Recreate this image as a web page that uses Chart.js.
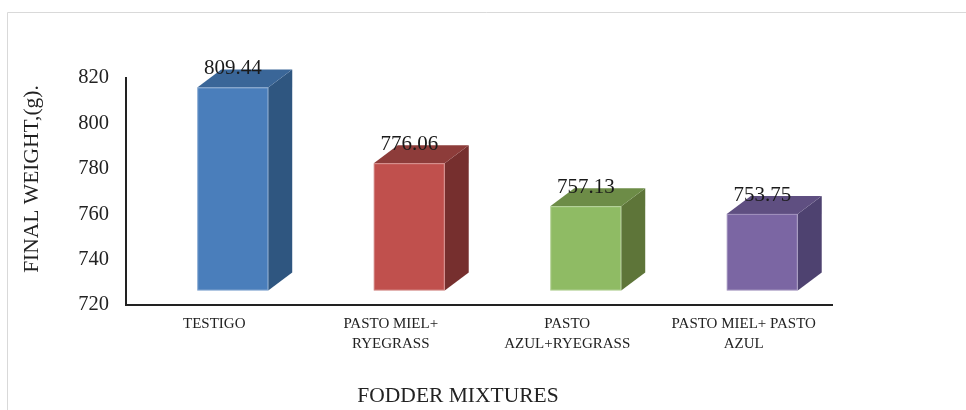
<!DOCTYPE html>
<html>
<head>
<meta charset="utf-8">
<title>Final weight by fodder mixture</title>
<script src="https://cdn.jsdelivr.net/npm/chart.js@4.4.1/dist/chart.umd.min.js"></script>
<style>
  html, body { margin: 0; padding: 0; background: #fff; }
  #chart { display: block; }
</style>
</head>
<body>
<canvas id="chart" width="966" height="410"></canvas>
<script>
// categories (multi-line labels) and final weights in grams
const mixtures = [
  'TESTIGO',
  ['PASTO MIEL+', 'RYEGRASS'],
  ['PASTO', 'AZUL+RYEGRASS'],
  ['PASTO MIEL+ PASTO', 'AZUL']
];
const finalWeights = [809.44, 776.06, 757.13, 753.75];

// value axis range
const yMin = 720;
const yMax = 820;
const yStep = 20;

const xTitle = 'FODDER MIXTURES';
const yTitle = 'FINAL WEIGHT,(g).';

// face colours for the 3d columns: front, top, side
const frontColors = ['#4a7ebb', '#c0504d', '#8fbb64', '#7b66a3'];
const topColors = ['#3a6698', '#8d3c3a', '#6d8c47', '#5f4f81'];
const sideColors = ['#2f5680', '#762f2e', '#5e7539', '#4e4270'];

const FONT = "'Liberation Serif', 'Times New Roman', serif";
const INK = '#222';

// draws columns as extruded boxes on top of the (invisible) bar elements
const columns3d = {
  id: 'columns3d',
  beforeDraw(chart) {
    const ctx = chart.ctx;
    ctx.save();
    ctx.fillStyle = '#fff';
    ctx.fillRect(0, 0, chart.width, chart.height);
    // outer frame
    ctx.strokeStyle = '#d9d9d9';
    ctx.lineWidth = 1;
    ctx.beginPath();
    ctx.moveTo(7.5, chart.height);
    ctx.lineTo(7.5, 12.5);
    ctx.lineTo(chart.width, 12.5);
    ctx.stroke();
    ctx.restore();
  },
  afterDatasetsDraw(chart) {
    const ctx = chart.ctx;
    const yScale = chart.scales.y;
    const meta = chart.getDatasetMeta(0);
    const ox = 18.5, oy = -14.5;   // front face shift
    const dx = 24, dy = 18;        // depth
    const floor = yScale.getPixelForValue(yScale.min);
    ctx.save();
    meta.data.forEach((bar, i) => {
      const p = bar.getProps(['x', 'y', 'width'], true);
      const l = p.x - p.width / 2 + ox;
      const r = p.x + p.width / 2 + ox;
      const t = p.y + oy;
      const b = floor + oy;

      // side
      ctx.fillStyle = sideColors[i];
      ctx.beginPath();
      ctx.moveTo(r, t);
      ctx.lineTo(r + dx, t - dy);
      ctx.lineTo(r + dx, b - dy);
      ctx.lineTo(r, b);
      ctx.closePath();
      ctx.fill();

      // top
      ctx.fillStyle = topColors[i];
      ctx.beginPath();
      ctx.moveTo(l, t);
      ctx.lineTo(l + dx, t - dy);
      ctx.lineTo(r + dx, t - dy);
      ctx.lineTo(r, t);
      ctx.closePath();
      ctx.fill();

      // front
      ctx.fillStyle = frontColors[i];
      ctx.fillRect(l, t, r - l, b - t);
      ctx.strokeStyle = 'rgba(255,255,255,0.3)';
      ctx.lineWidth = 1;
      ctx.strokeRect(l + 0.5, t + 0.5, r - l - 1, b - t - 1);

      // value label
      ctx.fillStyle = '#1a1a1a';
      ctx.font = '21px ' + FONT;
      ctx.textAlign = 'center';
      ctx.textBaseline = 'alphabetic';
      const v = chart.data.datasets[0].data[i];
      ctx.fillText(v.toFixed(2), (l + r) / 2, t - 13);
    });
    ctx.restore();
  },
  afterDraw(chart) {
    const ctx = chart.ctx;
    ctx.save();
    ctx.fillStyle = INK;
    ctx.font = '21.5px ' + FONT;
    ctx.textAlign = 'center';
    ctx.textBaseline = 'middle';
    ctx.fillText(xTitle, 458, 396);
    ctx.translate(32, 179);
    ctx.rotate(-Math.PI / 2);
    ctx.fillText(yTitle, 0, 0);
    ctx.restore();
  }
};

new Chart(document.getElementById('chart'), {
  type: 'bar',
  data: {
    labels: mixtures,
    datasets: [{
      label: 'Final weight (g)',
      data: finalWeights,
      backgroundColor: 'rgba(0,0,0,0)',
      borderWidth: 0,
      categoryPercentage: 1,
      barPercentage: 0.402
    }]
  },
  options: {
    responsive: false,
    animation: false,
    devicePixelRatio: 1,
    layout: { padding: { left: 0, top: 78, right: 134, bottom: 0 } },
    plugins: {
      legend: { display: false },
      tooltip: { enabled: false }
    },
    scales: {
      x: {
        grid: { display: false, drawTicks: false },
        border: { display: true, color: '#222', width: 2 },
        ticks: {
          color: INK,
          padding: 10,
          maxRotation: 0,
          autoSkip: false,
          font: { family: FONT, size: 15, lineHeight: 1.27 }
        },
        afterFit(scale) { scale.height = 105; }
      },
      y: {
        min: yMin,
        max: yMax,
        grid: { display: false, drawTicks: false },
        border: { display: true, color: '#222', width: 2 },
        ticks: {
          stepSize: yStep,
          color: INK,
          padding: 17,
          font: { family: FONT, size: 20.5 }
        },
        afterFit(scale) { scale.width = 126; }
      }
    }
  },
  plugins: [columns3d]
});
</script>
</body>
</html>
